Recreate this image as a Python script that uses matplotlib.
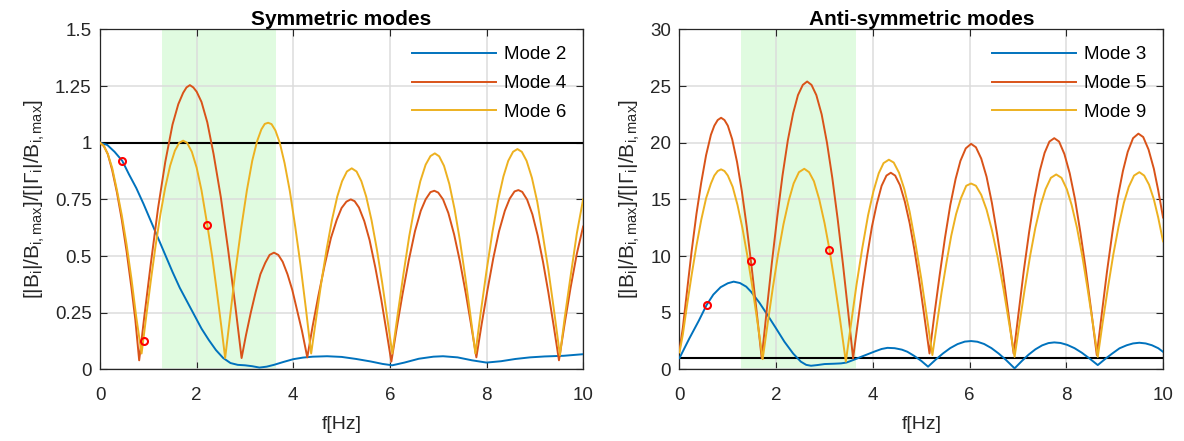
import matplotlib
matplotlib.use("Agg")
import matplotlib.pyplot as plt

plt.rcParams['font.family'] = ['Liberation Sans', 'DejaVu Sans']
plt.rcParams['mathtext.fontset'] = 'custom'
plt.rcParams['mathtext.rm'] = 'Liberation Sans'
plt.rcParams['mathtext.it'] = 'Liberation Sans'

# ---- symmetric modes ----
sym_m2_x = [0, 0.15, 0.3, 0.46, 0.6, 0.75, 0.9, 1.05, 1.2, 1.35, 1.5, 1.65, 1.8, 1.95, 2.1, 2.25,
            2.4, 2.55, 2.7, 2.85, 3.0, 3.15, 3.3, 3.45, 3.6, 3.8, 4.0, 4.2, 4.4, 4.7, 5.0, 5.3,
            5.6, 5.85, 6.05, 6.3, 6.6, 6.9, 7.1, 7.4, 7.7, 8.0, 8.3, 8.6, 8.9, 9.2, 9.6, 10]
sym_m2_y = [1.0, 0.99, 0.96, 0.92, 0.86, 0.8, 0.73, 0.655, 0.58, 0.505, 0.43, 0.36, 0.3, 0.24, 0.18, 0.13,
            0.085, 0.05, 0.028, 0.02, 0.018, 0.014, 0.008, 0.012, 0.02, 0.033, 0.045, 0.052, 0.056, 0.058, 0.055, 0.046,
            0.035, 0.024, 0.018, 0.03, 0.047, 0.056, 0.058, 0.053, 0.04, 0.03, 0.036, 0.046, 0.053, 0.057, 0.06, 0.067]

sym_m4_x = [0, 0.08, 0.16, 0.25, 0.35, 0.45, 0.55, 0.65, 0.73, 0.81,
            0.92, 1.05, 1.2, 1.35, 1.5, 1.62, 1.72, 1.79, 1.86, 1.93, 2.0, 2.1, 2.22, 2.35, 2.5, 2.65, 2.8, 2.93,
            3.02, 3.12, 3.22, 3.32, 3.42, 3.51, 3.6, 3.69, 3.78, 3.88, 3.98, 4.08, 4.18, 4.29,
            4.4, 4.52, 4.65, 4.78, 4.9, 5.0, 5.1, 5.19, 5.27, 5.36, 5.47, 5.58, 5.7, 5.82, 5.93, 6.03,
            6.14, 6.26, 6.39, 6.52, 6.64, 6.74, 6.84, 6.92, 7.0, 7.1, 7.21, 7.33, 7.45, 7.57, 7.68, 7.79,
            7.9, 8.02, 8.14, 8.26, 8.38, 8.48, 8.58, 8.66, 8.74, 8.84, 8.95, 9.06, 9.17, 9.28, 9.39, 9.5,
            9.62, 9.74, 9.87, 10]
sym_m4_y = [1.0, 0.985, 0.95, 0.88, 0.78, 0.66, 0.52, 0.36, 0.22, 0.04,
            0.24, 0.465, 0.71, 0.915, 1.08, 1.17, 1.22, 1.244, 1.254, 1.244, 1.225, 1.18, 1.09, 0.95, 0.76, 0.53, 0.28, 0.05,
            0.15, 0.25, 0.34, 0.42, 0.47, 0.505, 0.515, 0.505, 0.475, 0.42, 0.35, 0.26, 0.17, 0.053,
            0.19, 0.325, 0.46, 0.58, 0.66, 0.712, 0.74, 0.75, 0.742, 0.714, 0.654, 0.57, 0.448, 0.31, 0.167, 0.034,
            0.18, 0.33, 0.48, 0.61, 0.7, 0.75, 0.782, 0.788, 0.78, 0.75, 0.69, 0.595, 0.476, 0.337, 0.198, 0.053,
            0.2, 0.35, 0.49, 0.61, 0.7, 0.753, 0.785, 0.791, 0.783, 0.749, 0.684, 0.59, 0.474, 0.34, 0.193, 0.04,
            0.205, 0.36, 0.51, 0.63]

sym_m6_x = [0, 0.08, 0.16, 0.25, 0.35, 0.45, 0.55, 0.65, 0.75, 0.86,
            0.95, 1.05, 1.15, 1.25, 1.35, 1.45, 1.55, 1.64, 1.72, 1.8, 1.9, 2.0, 2.1, 2.22, 2.32, 2.42, 2.51, 2.59,
            2.69, 2.8, 2.92, 3.04, 3.15, 3.25, 3.34, 3.41, 3.48, 3.55, 3.63, 3.72, 3.82, 3.93, 4.04, 4.15, 4.26, 4.37,
            4.47, 4.58, 4.69, 4.8, 4.91, 5.01, 5.11, 5.21, 5.31, 5.41, 5.51, 5.62, 5.73, 5.84, 5.95, 6.05,
            6.16, 6.28, 6.4, 6.52, 6.63, 6.74, 6.84, 6.93, 7.02, 7.12, 7.23, 7.34, 7.45, 7.56, 7.67, 7.77,
            7.88, 8.0, 8.12, 8.24, 8.35, 8.45, 8.55, 8.64, 8.73, 8.83, 8.94, 9.05, 9.16, 9.28, 9.4, 9.52,
            9.62, 9.74, 9.87, 10]
sym_m6_y = [1.0, 0.985, 0.95, 0.89, 0.79, 0.68, 0.55, 0.4, 0.23, 0.07,
            0.224, 0.39, 0.546, 0.685, 0.803, 0.898, 0.965, 1.0, 1.009, 1.0, 0.96, 0.89, 0.79, 0.637, 0.5, 0.34, 0.19, 0.05,
            0.23, 0.43, 0.62, 0.79, 0.92, 1.006, 1.059, 1.083, 1.088, 1.082, 1.054, 1.0, 0.91, 0.785, 0.63, 0.46, 0.27, 0.07,
            0.22, 0.383, 0.53, 0.658, 0.762, 0.83, 0.873, 0.887, 0.873, 0.83, 0.762, 0.658, 0.53, 0.383, 0.22, 0.07,
            0.24, 0.42, 0.587, 0.727, 0.83, 0.903, 0.941, 0.953, 0.94, 0.898, 0.818, 0.706, 0.568, 0.408, 0.234, 0.07,
            0.25, 0.434, 0.602, 0.747, 0.851, 0.92, 0.96, 0.972, 0.96, 0.92, 0.845, 0.74, 0.6, 0.44, 0.256, 0.063,
            0.23, 0.41, 0.6, 0.75]

sym_dots_x = [0.46, 0.91, 2.22]
sym_dots_y = [0.92, 0.126, 0.637]

# ---- anti-symmetric modes ----
anti_m3_x = [0, 0.2, 0.4, 0.56, 0.7, 0.85, 1.0, 1.12, 1.25, 1.38, 1.48, 1.65, 1.82, 2.0, 2.17, 2.35,
             2.51, 2.62, 2.72, 2.85, 3.0, 3.2, 3.34, 3.45, 3.54, 3.65, 3.75, 3.9, 4.05, 4.18, 4.3,
             4.45, 4.6, 4.71, 4.85, 5.0, 5.14, 5.3, 5.45, 5.6, 5.75, 5.9, 6.03, 6.16, 6.3, 6.45,
             6.6, 6.75, 6.93, 7.08, 7.22, 7.36, 7.5, 7.63, 7.75, 7.88, 8.02, 8.17, 8.32, 8.48,
             8.65, 8.8, 8.95, 9.1, 9.25, 9.38, 9.51, 9.64, 9.77, 9.9, 10]
anti_m3_y = [1.0, 2.7, 4.3, 5.68, 6.6, 7.25, 7.6, 7.74, 7.62, 7.3, 6.85, 5.9, 4.8, 3.6, 2.44, 1.4,
             0.68, 0.4, 0.32, 0.38, 0.47, 0.5, 0.53, 0.6, 0.74, 0.92, 1.1, 1.35, 1.6, 1.8, 1.9,
             1.87, 1.74, 1.56, 1.2, 0.75, 0.24, 0.87, 1.41, 1.88, 2.23, 2.45, 2.5, 2.44, 2.24, 1.88,
             1.4, 0.84, 0.09, 0.74, 1.3, 1.77, 2.12, 2.32, 2.38, 2.33, 2.16, 1.87, 1.47, 0.96,
             0.38, 0.91, 1.4, 1.86, 2.13, 2.29, 2.35, 2.29, 2.13, 1.87, 1.55]

anti_m5_x = [0, 0.07, 0.15, 0.25, 0.35, 0.45, 0.55, 0.65, 0.72, 0.79, 0.86,
             0.93, 1.0, 1.09, 1.19, 1.29, 1.39, 1.49, 1.59, 1.7,
             1.8, 1.91, 2.02, 2.13, 2.24, 2.35, 2.45, 2.55, 2.64, 2.73, 2.83, 2.94, 3.05, 3.16, 3.27, 3.38, 3.49, 3.59,
             3.68, 3.78, 3.88, 3.98, 4.08, 4.18, 4.28, 4.37, 4.46, 4.56, 4.66, 4.76, 4.86, 4.96, 5.06, 5.17,
             5.27, 5.38, 5.49, 5.6, 5.71, 5.81, 5.92, 6.03, 6.13, 6.24, 6.35, 6.46, 6.57, 6.68, 6.8, 6.91,
             7.01, 7.12, 7.23, 7.34, 7.45, 7.55, 7.65, 7.75, 7.85, 7.96, 8.07, 8.18, 8.29, 8.4, 8.52, 8.63,
             8.73, 8.84, 8.95, 9.06, 9.17, 9.27, 9.38, 9.49, 9.59, 9.7, 9.81, 9.9, 10]
anti_m5_y = [1.7, 3.7, 6.7, 10.4, 13.7, 16.5, 18.9, 20.7, 21.5, 22.0, 22.2,
             22.0, 21.5, 20.3, 18.3, 15.7, 12.6, 9.1, 5.3, 1.0,
             5.05, 9.4, 13.4, 17.1, 20.2, 22.6, 24.2, 25.1, 25.4, 25.1, 24.2, 22.5, 20.0, 16.9, 13.3, 9.3, 5.0, 0.97,
             3.9, 7.1, 10.0, 12.6, 14.6, 16.2, 17.1, 17.35, 17.1, 16.25, 14.8, 12.9, 10.5, 7.8, 4.8, 1.4,
             4.8, 8.3, 11.6, 14.5, 16.8, 18.4, 19.5, 19.9, 19.6, 18.6, 17.0, 14.7, 11.9, 8.8, 5.0, 1.4,
             4.9, 8.7, 12.1, 15.1, 17.5, 19.1, 20.1, 20.4, 20.1, 19.0, 17.3, 15.0, 12.1, 8.9, 5.0, 1.26,
             4.8, 8.6, 12.0, 15.1, 17.5, 19.2, 20.4, 20.8, 20.5, 19.4, 17.7, 15.8, 13.4]

anti_m9_x = [0, 0.07, 0.15, 0.25, 0.35, 0.45, 0.55, 0.65, 0.72, 0.79, 0.86,
             0.93, 1.0, 1.1, 1.2, 1.3, 1.4, 1.5, 1.61, 1.72,
             1.82, 1.93, 2.04, 2.15, 2.26, 2.36, 2.47, 2.58, 2.68, 2.78, 2.89, 3.0, 3.1, 3.2, 3.32, 3.44,
             3.54, 3.66, 3.78, 3.9, 4.01, 4.12, 4.22, 4.33, 4.43, 4.54, 4.65, 4.76, 4.88, 5.0, 5.12, 5.23,
             5.32, 5.42, 5.52, 5.62, 5.72, 5.82, 5.93, 6.03, 6.13, 6.24, 6.35, 6.46, 6.58, 6.7, 6.82, 6.93,
             7.03, 7.14, 7.25, 7.36, 7.47, 7.57, 7.68, 7.79, 7.9, 8.01, 8.11, 8.22, 8.33, 8.44, 8.55, 8.65,
             8.75, 8.86, 8.97, 9.08, 9.19, 9.29, 9.4, 9.51, 9.61, 9.71, 9.81, 9.9, 10]
anti_m9_y = [1.5, 3.1, 5.5, 8.3, 10.9, 13.2, 15.1, 16.4, 17.1, 17.5, 17.65,
             17.5, 17.1, 16.1, 14.5, 12.5, 10.1, 7.45, 4.25, 0.9,
             3.95, 7.2, 10.2, 12.8, 14.9, 16.4, 17.4, 17.7, 17.4, 16.6, 15.0, 12.9, 10.6, 7.9, 4.4, 0.68,
             3.8, 7.45, 10.7, 13.6, 15.7, 17.3, 18.2, 18.5, 18.25, 17.35, 15.9, 13.9, 11.1, 8.0, 4.5, 1.26,
             3.9, 6.8, 9.4, 11.8, 13.7, 15.1, 16.2, 16.4, 16.2, 15.4, 14.1, 12.3, 9.9, 7.1, 4.0, 1.1,
             4.0, 7.1, 10.0, 12.5, 14.5, 15.9, 16.9, 17.2, 16.9, 15.9, 14.5, 12.5, 10.0, 7.1, 4.0, 1.1,
             4.1, 7.2, 10.1, 12.6, 14.7, 16.1, 17.1, 17.4, 17.1, 16.3, 15.0, 13.4, 11.3]

anti_dots_x = [0.56, 1.47, 3.1]
anti_dots_y = [5.68, 9.6, 10.5]

band = [1.28, 3.65]
colors = ['#0072BD', '#D95319', '#EDB120']
ylab = r'[|B$_\mathregular{i}$|/B$_\mathregular{i,max}$]/[|$\mathregular{\Gamma_i}$|/B$_\mathregular{i,max}$]'

fig = plt.figure(figsize=(11.84, 4.41), dpi=100)
ax1 = fig.add_axes([0.0845, 0.1624, 0.408, 0.771])
ax2 = fig.add_axes([0.5739, 0.1624, 0.4084, 0.771])


def style(ax, yticks, ylabels, ymax, title):
    ax.axvspan(band[0], band[1], color='#e0fbe0', zorder=0, lw=0)
    ax.set_axisbelow(True)
    ax.grid(True, color='#dcdcdc', lw=1.1)
    ax.set_xlim(0, 10)
    ax.set_ylim(0, ymax)
    ax.set_xticks([0, 2, 4, 6, 8, 10])
    ax.set_yticks(yticks)
    ax.set_yticklabels(ylabels)
    ax.tick_params(direction='in', top=True, right=True, length=5, width=0.8,
                   labelsize=13.5, colors='#262626', pad=6)
    ax.tick_params(axis='x', pad=13)
    for s in ax.spines.values():
        s.set_color('#262626')
        s.set_linewidth(0.9)
    ax.set_xlabel('f[Hz]', fontsize=14, color='#262626', labelpad=8)
    ax.set_ylabel(ylab, fontsize=15, color='#262626', labelpad=6)
    ax.set_title(title, fontsize=15, fontweight='bold', pad=3)


style(ax1, [0, 0.25, 0.5, 0.75, 1, 1.25, 1.5], ['0', '0.25', '0.5', '0.75', '1', '1.25', '1.5'],
      1.5, 'Symmetric modes')
ax1.axhline(1, color='k', lw=1.5, zorder=2)
ax1.plot(sym_m2_x, sym_m2_y, color=colors[0], lw=1.4, label='Mode 2', zorder=3)
ax1.plot(sym_m4_x, sym_m4_y, color=colors[1], lw=1.4, label='Mode 4', zorder=3)
ax1.plot(sym_m6_x, sym_m6_y, color=colors[2], lw=1.4, label='Mode 6', zorder=3)
ax1.plot(sym_dots_x, sym_dots_y, 'o', mfc='none', mec='red', ms=5, mew=1.5, zorder=4)
ax1.legend(loc='upper right', frameon=False, fontsize=13.5, handlelength=4.5,
           handletextpad=0.4, labelspacing=0.62, borderaxespad=0.5)

style(ax2, [0, 5, 10, 15, 20, 25, 30], ['0', '5', '10', '15', '20', '25', '30'],
      30, 'Anti-symmetric modes')
ax2.axhline(1, color='k', lw=1.5, zorder=2)
ax2.plot(anti_m3_x, anti_m3_y, color=colors[0], lw=1.4, label='Mode 3', zorder=3)
ax2.plot(anti_m5_x, anti_m5_y, color=colors[1], lw=1.4, label='Mode 5', zorder=3)
ax2.plot(anti_m9_x, anti_m9_y, color=colors[2], lw=1.4, label='Mode 9', zorder=3)
ax2.plot(anti_dots_x, anti_dots_y, 'o', mfc='none', mec='red', ms=5, mew=1.5, zorder=4)
ax2.legend(loc='upper right', frameon=False, fontsize=13.5, handlelength=4.5,
           handletextpad=0.4, labelspacing=0.62, borderaxespad=0.5)

fig.savefig('out.png', dpi=100)
